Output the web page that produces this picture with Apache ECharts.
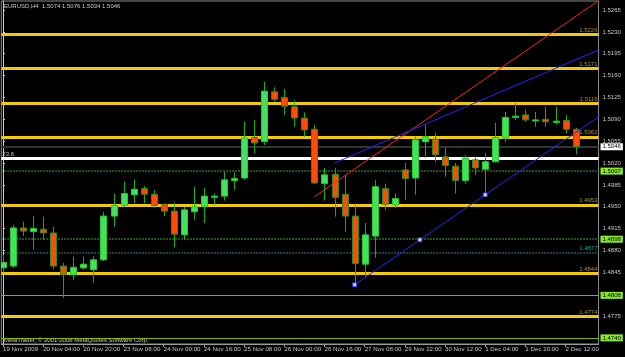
<!DOCTYPE html>
<html><head><meta charset="utf-8">
<script src="https://cdn.jsdelivr.net/npm/echarts@6/dist/echarts.min.js"></script>
<style>html,body{margin:0;padding:0;background:#000;}#c{width:625px;height:357px;}</style>
</head><body><div id="c"></div>
<script>
const barTimes = ['19 Nov 12:00','19 Nov 16:00','19 Nov 20:00','20 Nov 00:00','20 Nov 04:00','20 Nov 08:00','20 Nov 12:00','20 Nov 16:00','20 Nov 20:00','22 Nov 22:00',
 '23 Nov 00:00','23 Nov 04:00','23 Nov 08:00','23 Nov 12:00','23 Nov 16:00','23 Nov 20:00','24 Nov 00:00','24 Nov 04:00','24 Nov 08:00','24 Nov 12:00',
 '24 Nov 16:00','24 Nov 20:00','25 Nov 00:00','25 Nov 04:00','25 Nov 08:00','25 Nov 12:00','25 Nov 16:00','25 Nov 20:00','26 Nov 00:00','26 Nov 04:00',
 '26 Nov 08:00','26 Nov 12:00','26 Nov 16:00','26 Nov 20:00','27 Nov 00:00','27 Nov 04:00','27 Nov 08:00','27 Nov 12:00','27 Nov 16:00','27 Nov 20:00',
 '29 Nov 22:00','30 Nov 00:00','30 Nov 04:00','30 Nov 08:00','30 Nov 12:00','30 Nov 16:00','30 Nov 20:00','1 Dec 00:00','1 Dec 04:00','1 Dec 08:00',
 '1 Dec 12:00','1 Dec 16:00','1 Dec 20:00','2 Dec 00:00','2 Dec 04:00','2 Dec 08:00','2 Dec 12:00','2 Dec 16:00'];
const opens  = [1.4852,1.4855,1.4916,1.4910,1.4914,1.4908,1.4855,1.4841,1.4852,1.4849,
 1.4865,1.4935,1.4952,1.4969,1.4979,1.4970,1.4954,1.4943,1.4905,1.4942,
 1.4950,1.4965,1.4967,1.4992,1.4996,1.5061,1.5054,1.5134,1.5125,1.5110,
 1.5092,1.5074,1.4987,1.5002,1.4970,1.4935,1.4858,1.4903,1.4979,1.4953,
 1.5009,1.4996,1.5054,1.5058,1.5030,1.5015,1.4992,1.5025,1.5010,1.5022,
 1.5060,1.5093,1.5097,1.5088,1.5090,1.5085,1.5088,1.5074];
const closes = [1.4861,1.4916,1.4911,1.4915,1.4908,1.4855,1.4841,1.4853,1.4858,1.4865,
 1.4935,1.4952,1.4971,1.4978,1.4970,1.4952,1.4943,1.4906,1.4945,1.4950,
 1.4967,1.4967,1.4993,1.4995,1.5060,1.5052,1.5135,1.5122,1.5111,1.5092,
 1.5073,1.4988,1.5001,1.4965,1.4935,1.4859,1.4905,1.4982,1.4954,1.4963,
 1.4995,1.5057,1.5062,1.5033,1.5016,1.4992,1.5028,1.5012,1.5022,1.5061,
 1.5093,1.5095,1.5089,1.5089,1.5086,1.5087,1.5074,1.5046];
const highs  = [1.4873,1.4921,1.4926,1.4935,1.4934,1.4918,1.4860,1.4870,1.4870,1.4871,
 1.4942,1.4971,1.4990,1.4994,1.4983,1.4977,1.4955,1.4956,1.4950,1.4982,
 1.4980,1.4971,1.5006,1.5005,1.5086,1.5089,1.5150,1.5141,1.5139,1.5120,
 1.5101,1.5081,1.5012,1.5012,1.5001,1.4953,1.4924,1.4993,1.4987,1.4971,
 1.5020,1.5062,1.5081,1.5068,1.5044,1.5020,1.5033,1.5030,1.5036,1.5084,
 1.5102,1.5116,1.5105,1.5102,1.5110,1.5110,1.5097,1.5076];
const lows   = [1.4845,1.4852,1.4903,1.4881,1.4897,1.4850,1.4804,1.4833,1.4849,1.4829,
 1.4863,1.4918,1.4950,1.4956,1.4956,1.4948,1.4935,1.4885,1.4897,1.4929,
 1.4924,1.4953,1.4960,1.4977,1.4993,1.5036,1.5049,1.5118,1.5097,1.5078,
 1.5062,1.4986,1.4960,1.4934,1.4910,1.4825,1.4838,1.4868,1.4945,1.4948,
 1.4961,1.4969,1.5028,1.5022,1.4998,1.4971,1.4987,1.5001,1.4969,1.5021,
 1.5054,1.5089,1.5086,1.5078,1.5078,1.5082,1.5068,1.5034];

const xTickIndex  = [0,4,8,12,16,20,24,28,32,36,40,44,48,52,56];
const xTickLabels = ['19 Nov 2009','20 Nov 04:00','20 Nov 20:00','23 Nov 08:00','24 Nov 00:00','24 Nov 16:00','25 Nov 08:00','26 Nov 00:00','26 Nov 16:00','27 Nov 08:00','29 Nov 22:00','30 Nov 12:00','1 Dec 04:00','1 Dec 20:00','2 Dec 12:00'];
const yTickValues = [1.5265,1.5230,1.5195,1.5160,1.5125,1.5090,1.5055,1.5020,1.4985,1.4950,1.4915,1.4880,1.4845,1.4775];

const fibLevels = [1.5226,1.5171,1.5116,1.5062,1.4953,1.4844,1.4774];
const fibLabel = 23.6;
const fibWhiteLevel = 1.5027;
const bidPrice = 1.5046;
const greenDotLevels = [1.5007,1.4898];
const tealDotLevel = 1.4877;
const oliveLevels = [1.4808,1.4740];

const redTrend = [[31,1.4966],[60,1.5288]];
const blueUpper = [[33,1.5020],[60,1.5206]];
const blueLower = [[35,1.4825],[60,1.5102]];
const blueAnchors = [[35,1.4825],[41.5,1.4897],[48,1.4969]];

const titleText = 'EURUSD,H4  1.5074 1.5076 1.5034 1.5046';
const copyText = 'MetaTrader, \u00a9 2001-2008 MetaQuotes Software Corp.';

const FONT = 'Liberation Sans, Arial, sans-serif';
const candleData = opens.map((o,i)=>[i,o,closes[i],lows[i],highs[i]]);

function fmt(v){return v.toFixed(4);}
const mk = [];
fibLevels.forEach(v=>mk.push({yAxis:v,lineStyle:{color:'#f2cc00',width:3,type:'solid'},
  label:{show:true,position:'insideEndTop',formatter:fmt(v),color:'#a89030',fontSize:6,fontFamily:FONT,distance:1}}));
mk.push({yAxis:fibWhiteLevel,lineStyle:{color:'#ffffff',width:3,type:'solid'},
  label:{show:true,position:'insideStartTop',formatter:String(fibLabel),color:'#c0c0c0',fontSize:6,fontFamily:FONT,distance:1}});
mk.push({yAxis:bidPrice,lineStyle:{color:'#333333',width:2,type:'solid'},
  label:{show:true,position:'end',formatter:fmt(bidPrice),color:'#000',backgroundColor:'#ffffff',padding:[1,2,0,2],fontSize:6,fontFamily:FONT,distance:2}});
greenDotLevels.forEach(v=>mk.push({yAxis:v,lineStyle:{color:'#3f8f22',width:1.5,type:'dotted'},
  label:{show:true,position:'end',formatter:fmt(v),color:'#000',backgroundColor:'#8ae82a',padding:[1,2,0,2],fontSize:6,fontFamily:FONT,distance:2}}));
mk.push({yAxis:tealDotLevel,lineStyle:{color:'#2a7070',width:1.5,type:'dotted'},
  label:{show:true,position:'insideEndTop',formatter:fmt(tealDotLevel),color:'#2a9a9a',fontSize:6,fontFamily:FONT,distance:1}});
oliveLevels.forEach(v=>mk.push({yAxis:v,lineStyle:{color:'#80b800',width:1,type:'solid'},
  label:{show:true,position:'end',formatter:fmt(v),color:'#000',backgroundColor:'#8ae82a',padding:[1,2,0,2],fontSize:6,fontFamily:FONT,distance:2}}));

const chart = echarts.init(document.getElementById('c'));
chart.setOption({
  animation:false,
  backgroundColor:'#000000',
  grid:{left:1,right:26.5,top:1,bottom:13,show:true,borderColor:'#8a8a8a',borderWidth:1,backgroundColor:'#000'},
  xAxis:{type:'value',min:-0.169,max:59.28,splitLine:{show:false},
    axisLine:{show:true,lineStyle:{color:'#9a9a9a'}},
    axisTick:{show:true,customValues:xTickIndex,length:3,lineStyle:{color:'#9a9a9a'}},
    axisLabel:{customValues:xTickIndex,formatter:v=>xTickLabels[xTickIndex.indexOf(Math.round(v))],
      align:'left',color:'#c8c8c8',fontSize:6.2,fontFamily:FONT,margin:2}},
  yAxis:{type:'value',position:'right',min:1.473017,max:1.527941,splitLine:{show:false},
    axisLine:{show:true,lineStyle:{color:'#c8c8c8'}},
    axisTick:{show:true,customValues:yTickValues,length:2,lineStyle:{color:'#c8c8c8'}},
    axisLabel:{customValues:yTickValues,formatter:v=>fmt(v),color:'#c8c8c8',fontSize:6,fontFamily:FONT,margin:4}},
  graphic:[
    {type:'text',left:4,top:3,style:{text:titleText,fill:'#c8c8c8',font:'6px '+FONT}},
    {type:'text',left:4,top:337,style:{text:copyText,fill:'#c8c8c8',font:'6px '+FONT}}
  ],
  series:[
    {type:'custom',z:3,clip:true,data:candleData,
      markLine:{silent:true,symbol:'none',animation:false,precision:4,z:1,data:mk},
      renderItem:function(params,api){
        const i=api.value(0),o=api.value(1),c=api.value(2),l=api.value(3),h=api.value(4);
        const pO=api.coord([i,o]),pC=api.coord([i,c]),pL=api.coord([i,l]),pH=api.coord([i,h]);
        const x=Math.round(pO[0])+0.5;
        const w=6;
        const top=Math.min(pO[1],pC[1]);
        const ht=Math.max(1,Math.abs(pO[1]-pC[1]));
        const bull=c>=o;
        return {type:'group',children:[
          {type:'line',shape:{x1:x,y1:pH[1],x2:x,y2:pL[1]},style:{stroke:'#10b010',lineWidth:1}},
          {type:'rect',shape:{x:x-w/2,y:top,width:w,height:ht},style:{fill:bull?'#44e060':'#ff4a08',stroke:bull?'#22cc22':'#2a8a1a',lineWidth:1}}
        ]};
      }},
    {type:'line',z:4,data:redTrend,showSymbol:false,silent:true,lineStyle:{color:'#ff2020',width:1}},
    {type:'line',z:4,data:blueUpper,showSymbol:false,silent:true,lineStyle:{color:'#2424ff',width:1}},
    {type:'line',z:4,data:blueLower,showSymbol:false,silent:true,lineStyle:{color:'#2424ff',width:1}},
    {type:'scatter',z:5,data:blueAnchors,symbol:'rect',symbolSize:4,silent:true,itemStyle:{color:'#ffffff',borderColor:'#2424ff',borderWidth:1}}
  ]
});
</script></body></html>
